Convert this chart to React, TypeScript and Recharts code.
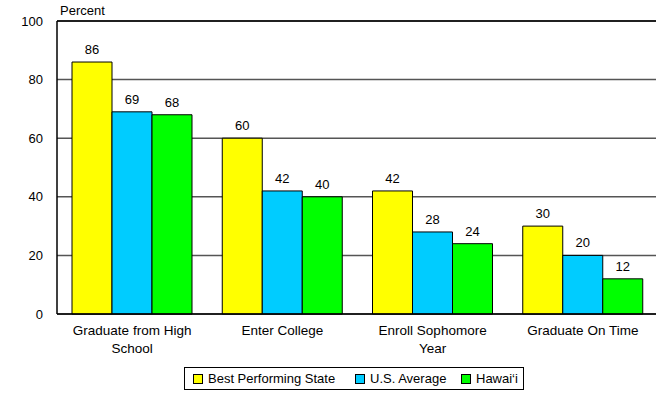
import React from 'react';
import { BarChart, Bar, XAxis, YAxis, CartesianGrid, LabelList, ReferenceLine } from 'recharts';

const categoryLines: string[][] = [
  ['Graduate from High', 'School'],
  ['Enter College'],
  ['Enroll Sophomore', 'Year'],
  ['Graduate On Time'],
];
const categories = categoryLines.map((l) => l.join(' '));
const bestState = [86, 60, 42, 30];
const usAverage = [69, 42, 28, 20];
const hawaii = [68, 40, 24, 12];
const yTicks = [0, 20, 40, 60, 80, 100];

const seriesDefs = [
  { key: 'best', name: 'Best Performing State', color: '#FFFF00', values: bestState },
  { key: 'us', name: 'U.S. Average', color: '#00CCFF', values: usAverage },
  { key: 'hi', name: 'Hawai\u2018i', color: '#00FF00', values: hawaii },
];

const data = categories.map((c, i) => {
  const row: Record<string, any> = { category: c, idx: i };
  seriesDefs.forEach((s) => (row[s.key] = s.values[i]));
  return row;
});

const FONT = '"Liberation Sans", Arial, Helvetica, sans-serif';

const CategoryTick = (props: any) => {
  const { x, y, payload, index } = props;
  const lines = categoryLines[index] || [String(payload.value)];
  return (
    <text x={x} y={y} textAnchor="middle" fontSize={13.5} fontFamily={FONT} fill="#000">
      {lines.map((l, i) => (
        <tspan key={i} x={x} dy={i === 0 ? 21 : 18}>
          {l}
        </tspan>
      ))}
    </text>
  );
};

const legendX = [8, 170, 276];

export default function App() {
  return (
    <div style={{ position: 'absolute', left: 0, top: 0, width: 656, height: 394, overflow: 'hidden', background: '#fff', fontFamily: FONT }}>
      <div style={{ position: 'absolute', left: 60, top: 3, fontSize: 13, color: '#000', lineHeight: '16px' }}>Percent</div>
      <BarChart
        width={658}
        height={394}
        data={data}
        margin={{ top: 21, right: 0, bottom: 0, left: 0 }}
        barCategoryGap={15}
        barGap={0}
      >
        <CartesianGrid horizontal vertical={false} stroke="#555" strokeWidth={1.5} />
        <ReferenceLine y={100} stroke="#000" strokeWidth={1.5} />
        <XAxis
          dataKey="category"
          height={80}
          tickLine={false}
          tickSize={0}
          tickMargin={0}
          axisLine={{ stroke: '#000', strokeWidth: 1.5 }}
          tick={<CategoryTick />}
          interval={0}
        />
        <YAxis
          width={57}
          domain={[0, 100]}
          ticks={yTicks}
          tickLine={false}
          tickSize={12}
          tickMargin={2}
          axisLine={{ stroke: '#000', strokeWidth: 1.5 }}
          tick={{ fontSize: 13, fill: '#000', fontFamily: FONT }}
        />
        {seriesDefs.map((s) => (
          <Bar key={s.key} dataKey={s.key} name={s.name} fill={s.color} stroke="#000" strokeWidth={1} isAnimationActive={false}>
            <LabelList dataKey={s.key} position="top" offset={8} fill="#000" fontSize={13} fontFamily={FONT} />
          </Bar>
        ))}
      </BarChart>
      <div
        style={{
          position: 'absolute',
          left: 184,
          top: 367,
          width: 340,
          height: 23,
          border: '1px solid #000',
          boxSizing: 'border-box',
          fontSize: 13,
          color: '#000',
        }}
      >
        {seriesDefs.map((s, i) => (
          <div key={s.key} style={{ position: 'absolute', left: legendX[i], top: 0, height: 21, display: 'flex', alignItems: 'center' }}>
            <span style={{ display: 'inline-block', width: 8, height: 8, background: s.color, border: '1px solid #000', marginRight: 5 }} />
            <span style={{ whiteSpace: 'nowrap', lineHeight: '21px' }}>{s.name}</span>
          </div>
        ))}
      </div>
    </div>
  );
}
